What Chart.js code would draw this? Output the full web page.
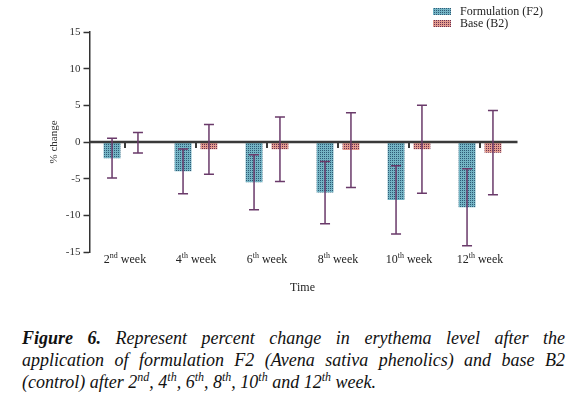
<!DOCTYPE html>
<html>
<head>
<meta charset="utf-8">
<script src="https://cdn.jsdelivr.net/npm/chart.js@4/dist/chart.umd.min.js"></script>
<style>
  body { margin: 0; background: #fff; }
  #wrap { position: relative; width: 587px; height: 305px; }
  #caption {
    position: absolute; left: 22px; top: 327px; width: 543px;
    font-family: "Liberation Serif", serif; font-style: italic;
    font-size: 18px; line-height: 22px; color: #111;
  }
  #caption .j { text-align: justify; text-align-last: justify; }
  #caption sup { font-size: 12px; line-height: 0; }
</style>
</head>
<body>
<div id="wrap"><canvas id="myChart"></canvas></div>
<div id="caption">
  <div class="j"><b>Figure 6.</b> Represent percent change in erythema level after the</div>
  <div class="j">application of formulation F2 (Avena sativa phenolics) and base B2</div>
  <div>(control) after 2<sup>nd</sup>, 4<sup>th</sup>, 6<sup>th</sup>, 8<sup>th</sup>, 10<sup>th</sup> and 12<sup>th</sup> week.</div>
</div>
<script>
// week numbers + superscript suffix for the x labels
const weeks = ["2", "4", "6", "8", "10", "12"];
const suffixes = ["nd", "th", "th", "th", "th", "th"];

// mean % change and error (+/-)
const f2Values = [-2.2, -4.0, -5.5, -6.9, -7.9, -8.9];
const f2Errors = [2.7, 3.05, 3.75, 4.25, 4.65, 5.25];
const b2Values = [-0.1, -1.0, -1.0, -1.1, -1.0, -1.45];
const b2Errors = [1.4, 3.4, 4.4, 5.1, 6.0, 5.75];

const seriesNames = ["Formulation (F2)", "Base (B2)"];
const yMin = -15;
const yMax = 15;
const yStep = 5;

const serif = "'Liberation Serif', 'Times New Roman', serif";

// dotted fill like the original (dark dot on every other pixel)
function makePattern(base, dot) {
  const c = document.createElement("canvas");
  c.width = 2;
  c.height = 2;
  const g = c.getContext("2d");
  g.fillStyle = base;
  g.fillRect(0, 0, 2, 2);
  g.fillStyle = dot;
  g.fillRect(0, 0, 1, 1);
  return g.createPattern(c, "repeat");
}
const f2Fill = makePattern("#74b4c4", "#2f5a76");
const b2Fill = makePattern("#e39c8e", "#6a2f52");

const errorSets = [f2Errors, b2Errors];

const extras = {
  id: "extras",
  afterDatasetsDraw(chart) {
    const ctx = chart.ctx;
    const x = chart.scales.x;
    const y = chart.scales.y;
    const area = chart.chartArea;
    const y0 = y.getPixelForValue(0);

    ctx.save();
    // zero line
    ctx.strokeStyle = "#3a3a3a";
    ctx.lineWidth = 2.5;
    ctx.beginPath();
    ctx.moveTo(area.left, y0);
    ctx.lineTo(area.right + 2, y0);
    ctx.stroke();

    // small category ticks on the zero line
    ctx.lineWidth = 2;
    weeks.forEach((w, i) => {
      const px = x.getPixelForValue(i);
      ctx.beginPath();
      ctx.moveTo(px, y0);
      ctx.lineTo(px, y0 + 6);
      ctx.stroke();
    });

    // error bars
    ctx.strokeStyle = "#6a3a6a";
    ctx.lineWidth = 1.5;
    chart.data.datasets.forEach((ds, d) => {
      const meta = chart.getDatasetMeta(d);
      meta.data.forEach((bar, i) => {
        const v = ds.data[i];
        const e = errorSets[d][i];
        const top = y.getPixelForValue(v + e);
        const bot = y.getPixelForValue(v - e);
        ctx.beginPath();
        ctx.moveTo(bar.x, top);
        ctx.lineTo(bar.x, bot);
        ctx.moveTo(bar.x - 5, top);
        ctx.lineTo(bar.x + 5, top);
        ctx.moveTo(bar.x - 5, bot);
        ctx.lineTo(bar.x + 5, bot);
        ctx.stroke();
      });
    });
    ctx.restore();
  },
  afterDraw(chart) {
    const ctx = chart.ctx;
    const x = chart.scales.x;
    ctx.save();
    ctx.fillStyle = "#222";
    ctx.textBaseline = "alphabetic";

    // x labels with superscripts
    weeks.forEach((w, i) => {
      const px = x.getPixelForValue(i);
      const big = "12px " + serif;
      const small = "8px " + serif;
      ctx.font = big;
      const w1 = ctx.measureText(w).width;
      const w3 = ctx.measureText(" week").width;
      ctx.font = small;
      const w2 = ctx.measureText(suffixes[i]).width;
      let sx = px - (w1 + w2 + w3) / 2;
      const base = 263;
      ctx.font = big;
      ctx.fillText(w, sx, base);
      ctx.font = small;
      ctx.fillText(suffixes[i], sx + w1, base - 5);
      ctx.font = big;
      ctx.fillText(" week", sx + w1 + w2, base);
    });

    // legend, stacked top right
    const fills = [f2Fill, b2Fill];
    ctx.font = "12px " + serif;
    ctx.textBaseline = "middle";
    seriesNames.forEach((name, i) => {
      const ly = 12 + i * 12;
      ctx.fillStyle = fills[i];
      ctx.fillRect(433, ly - 4, 18, 7);
      ctx.fillStyle = "#222";
      ctx.fillText(name, 460, ly);
    });
    ctx.restore();
  }
};

new Chart("myChart", {
  type: "bar",
  data: {
    labels: weeks.map((w, i) => w + suffixes[i] + " week"),
    datasets: [
      {
        label: seriesNames[0],
        data: f2Values,
        backgroundColor: f2Fill,
        categoryPercentage: 0.73,
        barPercentage: 0.65,
      },
      {
        label: seriesNames[1],
        data: b2Values,
        backgroundColor: b2Fill,
        categoryPercentage: 0.73,
        barPercentage: 0.65,
      },
    ],
  },
  options: {
    responsive: true,
    maintainAspectRatio: false,
    animation: false,
    layout: { padding: { top: 32, right: 71.5, left: 0, bottom: 0 } },
    plugins: {
      legend: { display: false },
      tooltip: { enabled: false },
    },
    scales: {
      x: {
        grid: { display: false },
        border: { display: false },
        ticks: { display: false },
        title: {
          display: true,
          text: "Time",
          color: "#222",
          font: { family: serif, size: 12 },
          padding: { top: 0, bottom: 10 },
        },
        afterFit(s) { s.height = 53; },
      },
      y: {
        min: yMin,
        max: yMax,
        ticks: {
          stepSize: yStep,
          color: "#333",
          padding: 3,
          font: { family: serif, size: 11 },
        },
        grid: {
          drawOnChartArea: false,
          tickLength: 6,
          tickColor: "#333",
          tickWidth: 1.5,
        },
        border: { color: "#333", width: 1.5 },
        title: {
          display: true,
          text: "% change",
          color: "#333",
          font: { family: serif, size: 11 },
          padding: { top: 48, bottom: 0 },
        },
        afterFit(s) { s.width = 89.5; },
      },
    },
  },
  plugins: [extras],
});
</script>
</body>
</html>
